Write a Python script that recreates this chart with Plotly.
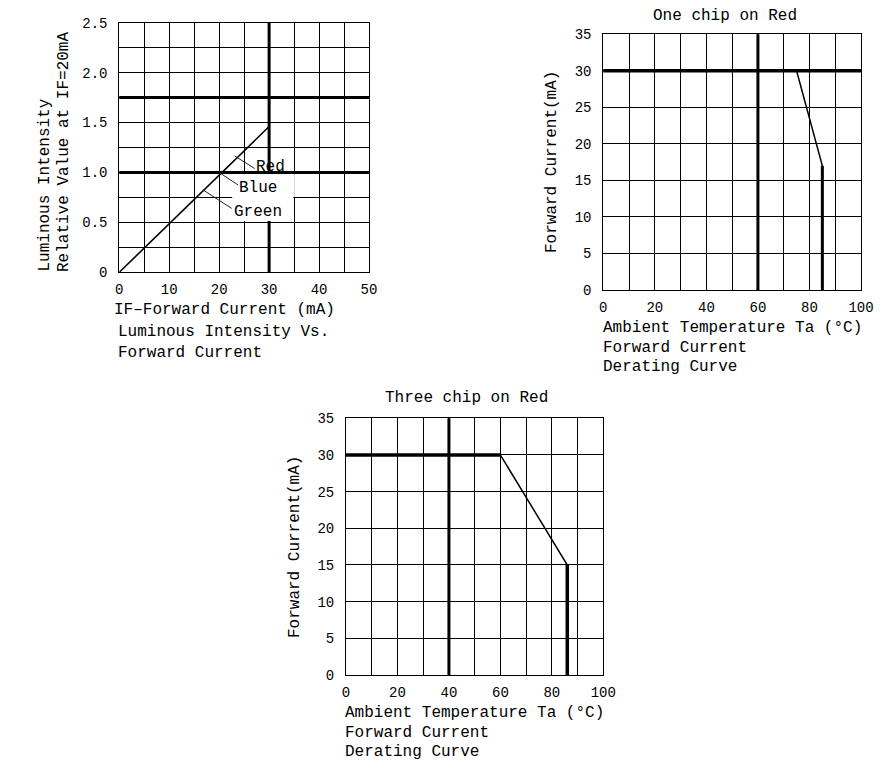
import plotly.graph_objects as go

# ---------------- data ----------------
# Chart 1: Luminous Intensity vs Forward Current
lum_current = [0, 30]
lum_relative = [0, 1.46]
lum_x_ticks = [0, 10, 20, 30, 40, 50]
lum_x_ticktext = ["0", "10", "20", "30", "40", "50"]
lum_y_ticks = [0, 0.5, 1.0, 1.5, 2.0, 2.5]
lum_y_ticktext = ["0", "0.5", "1.0", "1.5", "2.0", "2.5"]
lum_ref_x = [30]
lum_ref_y = [1.0, 1.75]
lum_labels = ["Red", "Blue", "Green"]

# Chart 2: One chip on Red
one_temp = [0, 75, 85, 85]
one_current = [30, 30, 17, 0]
one_ref_x = [60]
one_ref_y = [30]

# Chart 3: Three chip on Red
three_temp = [0, 60, 86, 86]
three_current = [30, 30, 15, 0]
three_ref_x = [40]

temp_ticks = [0, 20, 40, 60, 80, 100]
temp_ticktext = ["0", "20", "40", "60", "80", "100"]
cur_ticks = [0, 5, 10, 15, 20, 25, 30, 35]
cur_ticktext = ["0", "5", "10", "15", "20", "25", "30", "35"]

# ---------------- layout helpers ----------------
OFF = 8            # default page body margin
W, H = 890 - 2 * OFF, 779 - 2 * OFF
FONT = "Liberation Mono"


def px(x):
    return (x - OFF) / W


def py(y):
    return 1 - (y - OFF) / H


fig = go.Figure()

# Chart 1 curve
fig.add_trace(go.Scatter(x=lum_current, y=lum_relative, mode="lines",
                         line=dict(color="black", width=1.6),
                         xaxis="x", yaxis="y", hoverinfo="skip"))

# Chart 2 curve
fig.add_trace(go.Scatter(x=one_temp, y=one_current, mode="lines",
                         line=dict(color="black", width=1.5),
                         xaxis="x2", yaxis="y2", hoverinfo="skip"))
fig.add_trace(go.Scatter(x=one_temp[2:], y=one_current[2:], mode="lines",
                         line=dict(color="black", width=3),
                         xaxis="x2", yaxis="y2", hoverinfo="skip"))

# Chart 3 curve
fig.add_trace(go.Scatter(x=three_temp, y=three_current, mode="lines",
                         line=dict(color="black", width=1.5),
                         xaxis="x3", yaxis="y3", hoverinfo="skip"))
fig.add_trace(go.Scatter(x=three_temp[:2], y=three_current[:2], mode="lines",
                         line=dict(color="black", width=3.5),
                         xaxis="x3", yaxis="y3", hoverinfo="skip"))
fig.add_trace(go.Scatter(x=three_temp[2:], y=three_current[2:], mode="lines",
                         line=dict(color="black", width=3.5),
                         xaxis="x3", yaxis="y3", hoverinfo="skip"))


def axis(domain, anchor, rng, tickvals, ticktext, minor_dtick, standoff):
    d = dict(domain=domain, anchor=anchor, range=rng,
             tickmode="array", tickvals=tickvals, ticktext=ticktext,
             showgrid=True, gridcolor="black", gridwidth=1,
             showline=True, mirror=True, linecolor="black", linewidth=1,
             zeroline=False, ticks="", fixedrange=True, automargin=False,
             ticklabelstandoff=standoff,
             tickfont=dict(family=FONT, size=14, color="black"))
    if minor_dtick:
        d["minor"] = dict(tickmode="linear", tick0=0, dtick=minor_dtick,
                          showgrid=True, gridcolor="black", gridwidth=1, ticks="")
    return d


fig.update_layout(
    width=W, height=H, margin=dict(l=0, r=0, t=0, b=0, pad=0), autosize=False,
    paper_bgcolor="white", plot_bgcolor="white", showlegend=False,
    font=dict(family=FONT, size=16, color="black"),
    xaxis=axis([px(119.3), px(369)], "y", [0, 50], lum_x_ticks, lum_x_ticktext, 5, 4),
    yaxis=axis([py(272.3), py(22.7)], "x", [0, 2.5], lum_y_ticks, lum_y_ticktext, 0.25, 8),
    xaxis2=axis([px(603.3), px(861)], "y2", [0, 100], temp_ticks, temp_ticktext, 10, 4),
    yaxis2=axis([py(290), py(34.3)], "x2", [0, 35], cur_ticks, cur_ticktext, None, 8),
    xaxis3=axis([px(346), px(603.3)], "y3", [0, 100], temp_ticks, temp_ticktext, 10, 4),
    yaxis3=axis([py(675), py(418.3)], "x3", [0, 35], cur_ticks, cur_ticktext, None, 8),
)

# ---------------- thick reference lines ----------------
for xv in lum_ref_x:
    fig.add_shape(type="line", xref="x", yref="y domain", x0=xv, x1=xv, y0=0, y1=1,
                  line=dict(color="black", width=3), layer="above")
for yv in lum_ref_y:
    fig.add_shape(type="line", xref="x domain", yref="y", x0=0, x1=1, y0=yv, y1=yv,
                  line=dict(color="black", width=3), layer="above")
for xv in one_ref_x:
    fig.add_shape(type="line", xref="x2", yref="y2 domain", x0=xv, x1=xv, y0=0, y1=1,
                  line=dict(color="black", width=3), layer="above")
for yv in one_ref_y:
    fig.add_shape(type="line", xref="x2 domain", yref="y2", x0=0, x1=1, y0=yv, y1=yv,
                  line=dict(color="black", width=3.5), layer="above")
for xv in three_ref_x:
    fig.add_shape(type="line", xref="x3", yref="y3 domain", x0=xv, x1=xv, y0=0, y1=1,
                  line=dict(color="black", width=3), layer="above")

# white label boxes in chart 1 (hide grid behind labels)
fig.add_shape(type="rect", xref="x", yref="y", x0=24.0, x1=35.15, y0=0.755, y1=0.985,
              fillcolor="white", line=dict(width=0), layer="above")
fig.add_shape(type="rect", xref="x", yref="y", x0=22.6, x1=34.85, y0=0.515, y1=0.76,
              fillcolor="white", line=dict(width=0), layer="above")

# leader lines
leaders = [((23.1, 1.165), (27.1, 1.04)),
           ((20.0, 1.0), (23.8, 0.874)),
           ((16.8, 0.824), (22.5, 0.64))]
for (a, b) in leaders:
    fig.add_shape(type="line", xref="x", yref="y", x0=a[0], y0=a[1], x1=b[0], y1=b[1],
                  line=dict(color="#222", width=1), layer="above")

label_pos = [(30.3, 1.058), (27.8, 0.847), (27.7, 0.607)]
for name, (lx, ly) in zip(lum_labels, label_pos):
    fig.add_annotation(x=lx, y=ly, xref="x", yref="y", text=name, showarrow=False,
                       font=dict(family=FONT, size=16, color="black"))


def txt(text, x, y, xanchor="left", yanchor="middle", angle=0, size=16):
    fig.add_annotation(x=px(x), y=py(y), xref="paper", yref="paper", text=text,
                       showarrow=False, xanchor=xanchor, yanchor=yanchor,
                       textangle=angle, font=dict(family=FONT, size=size, color="black"))


# chart 1 texts
txt("IF–Forward Current (mA)", 112, 310)
txt("Luminous Intensity Vs.", 116, 331.7)
txt("Forward Current", 116, 353.3)
txt("Luminous Intensity", 44, 274, xanchor="center", yanchor="bottom", angle=-90)
txt("Relative Value at IF=20mA", 64, 274, xanchor="center", yanchor="bottom", angle=-90)

# chart 2 texts
txt("One chip on Red", 725, 16, xanchor="center")
txt("Forward Current(mA)", 552, 162, xanchor="center", angle=-90)
txt("Ambient Temperature Ta (°C)", 601, 328.3)
txt("Forward Current", 601, 348.3)
txt("Derating Curve", 601, 366.7)

# chart 3 texts
txt("Three chip on Red", 466.7, 398.3, xanchor="center")
txt("Forward Current(mA)", 295, 547, xanchor="center", angle=-90)
txt("Ambient Temperature Ta (°C)", 343, 713.3)
txt("Forward Current", 343, 733.3)
txt("Derating Curve", 343, 751.7)

fig.write_html("out.html", config={"displayModeBar": False})
